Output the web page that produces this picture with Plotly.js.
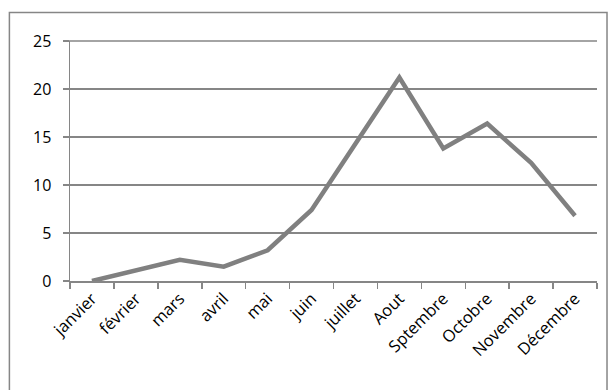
<!DOCTYPE html>
<html><head><meta charset="utf-8">
<script src="https://cdn.plot.ly/plotly-3.0.1.min.js"></script>
<style>html,body{margin:0;padding:0;background:#fff;}</style>
</head><body><div id="chart" style="width:615px;height:390px;"></div>
<script>
const months = ["janvier","février","mars","avril","mai","juin","juillet","Aout","Sptembre","Octobre","Novembre","Décembre"];
const values = [0, 1.1, 2.2, 1.5, 3.2, 7.4, 14.2, 21.2, 13.8, 16.4, 12.3, 6.8];
const yTicks = [0, 5, 10, 15, 20, 25];

const grey = "#868686";
const fam = "Open Sans, Noto Sans, sans-serif";

Plotly.newPlot("chart", [{
  x: months, y: values, type: "scatter", mode: "lines",
  line: {color: "#808080", width: 4.5, shape: "linear"},
  hoverinfo: "skip", cliponaxis: false
}], {
  width: 615, height: 390,
  margin: {l: 70, r: 18, t: 41, b: 109},
  paper_bgcolor: "#fff", plot_bgcolor: "#fff",
  showlegend: false,
  font: {family: fam, size: 16, color: "#000"},
  xaxis: {
    type: "category", range: [-0.5, 11.5],
    showline: true, linecolor: grey, linewidth: 1.5,
    ticks: "outside", tickson: "boundaries", ticklen: 6, tickcolor: grey, tickwidth: 1.5,
    showgrid: false, zeroline: false,
    tickangle: -45, tickfont: {family: fam, size: 16.5, color: "#000"}
  },
  yaxis: {
    range: [yTicks[0], yTicks[yTicks.length - 1]], tickvals: yTicks,
    showline: true, linecolor: grey, linewidth: 1.5,
    ticks: "outside", ticklen: 6, tickcolor: grey, tickwidth: 1.5,
    showgrid: true, gridcolor: grey, gridwidth: 1.5,
    zeroline: false, ticklabelstandoff: 8,
    tickfont: {family: fam, size: 16, color: "#000"}
  },
  shapes: [{
    type: "rect", xref: "paper", yref: "paper",
    x0: -0.115, x1: 1.019, y0: -0.49, y1: 1.119,
    line: {color: grey, width: 1.5}, fillcolor: "rgba(0,0,0,0)", layer: "below"
  }, {
    type: "line", xref: "paper", yref: "paper",
    x0: -0.0114, x1: 1, y0: 1, y1: 1,
    line: {color: grey, width: 1.5}, layer: "below"
  }]
}, {displayModeBar: false, staticPlot: true});
</script></body></html>
